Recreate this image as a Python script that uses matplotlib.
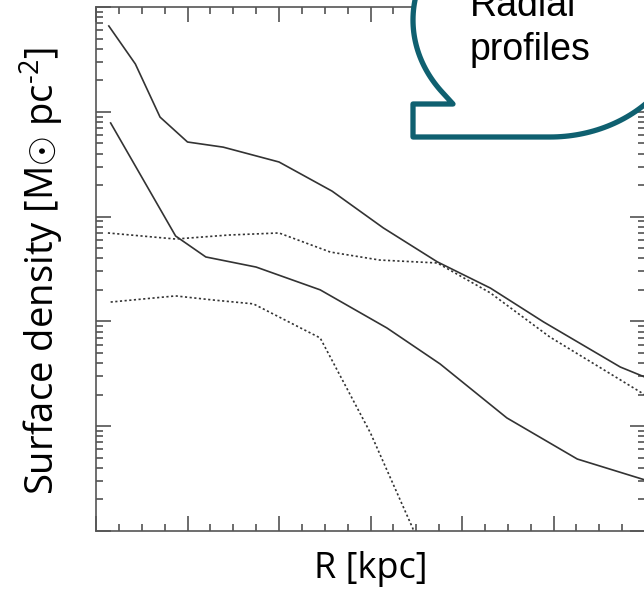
import numpy as np
import matplotlib
matplotlib.use('Agg')
import matplotlib.pyplot as plt
from matplotlib.path import Path
from matplotlib.patches import PathPatch

# radial profiles (R in kpc, surface density in Msun/pc^2)
r_total = [0.14, 0.43, 0.70, 1.00, 1.39, 2.00, 2.58, 3.14, 3.73, 4.31, 4.89, 5.73, 6.0]
sd_total = [6590, 2860, 890, 515, 460, 332, 175, 78, 37, 20.8, 9.9, 3.67, 2.94]

r_star = [0.16, 0.87, 1.20, 1.75, 2.45, 3.18, 3.76, 4.49, 5.26, 6.0]
sd_star = [782, 65.3, 41.2, 33.0, 20.0, 8.65, 3.93, 1.20, 0.486, 0.307]

r_gas = [0.13, 0.87, 1.45, 2.00, 2.56, 3.10, 3.73, 4.31, 4.96, 6.0]
sd_gas = [69.8, 61.1, 66.7, 69.8, 45.9, 38.5, 36.1, 18.7, 7.10, 1.99]

r_hi = [0.16, 0.87, 1.28, 1.72, 2.45, 3.00, 3.46, 3.6]
sd_hi = [15.3, 17.5, 16.0, 14.7, 6.95, 0.86, 0.107, 0.05]

line_col = '#333333'

fig = plt.figure(figsize=(6.44, 5.91), dpi=100)
W, H = 644, 591
ax = fig.add_axes([96 / W, (H - 531) / H, 549 / W, 524 / H])

ax.plot(r_total, sd_total, color=line_col, lw=1.2)
ax.plot(r_star, sd_star, color=line_col, lw=1.2)
ax.plot(r_gas, sd_gas, color=line_col, lw=1.2, ls=(0, (1.3, 1.5)))
ax.plot(r_hi, sd_hi, color=line_col, lw=1.2, ls=(0, (1.3, 1.5)))

ax.set_yscale('log')
ax.set_xlim(0, 6)
ax.set_ylim(0.1, 1e4)
ax.set_xticks(np.arange(0, 7, 1))
ax.set_xticks(np.arange(0, 6.01, 0.25), minor=True)
ax.tick_params(which='both', direction='in', top=True, right=True,
               labelbottom=False, labelleft=False, color='#444444', width=1.1)
ax.tick_params(which='major', length=11)
ax.tick_params(which='minor', length=5)
for s in ax.spines.values():
    s.set_color('#555555')
    s.set_linewidth(1.2)

lab_font = ['Open Sans', 'DejaVu Sans']
plt.rcParams['mathtext.fontset'] = 'custom'
plt.rcParams['mathtext.rm'] = 'Open Sans'
fig.text(42 / W, 1 - 271 / H, r'Surface density [M$\odot$ pc$^{\text{-2}}$]',
         rotation=90, ha='center', va='center', fontsize=27.5, family=lab_font)
fig.text(371 / W, 1 - 569 / H, 'R [kpc]', ha='center', va='center',
         fontsize=26, family=lab_font)

# speech bubble, drawn in pixel units then mapped to figure fraction
cx, cy, a, b = 550, 20, 137, 117
t = np.radians(np.linspace(141.4, 450, 200))
px = list(cx + a * np.cos(t)) + [413, 413, 453]
py = list(cy + b * np.sin(t)) + [137, 104, 104]
verts = [(x / W, 1 - y / H) for x, y in zip(px, py)]
verts.append(verts[0])
codes = [Path.MOVETO] + [Path.LINETO] * (len(verts) - 2) + [Path.CLOSEPOLY]
bubble = PathPatch(Path(verts, codes), transform=fig.transFigure,
                   facecolor='white', edgecolor='#0f6070', lw=3.8,
                   joinstyle='round', zorder=10)
fig.patches.append(bubble)

fig.text(470 / W, 1 - 16 / H, 'Radial', ha='left', va='baseline',
         fontsize=27, family='Liberation Sans', zorder=11)
fig.text(470 / W, 1 - 60 / H, 'profiles', ha='left', va='baseline',
         fontsize=27, family='Liberation Sans', zorder=11)

fig.savefig('out.png', dpi=100)
